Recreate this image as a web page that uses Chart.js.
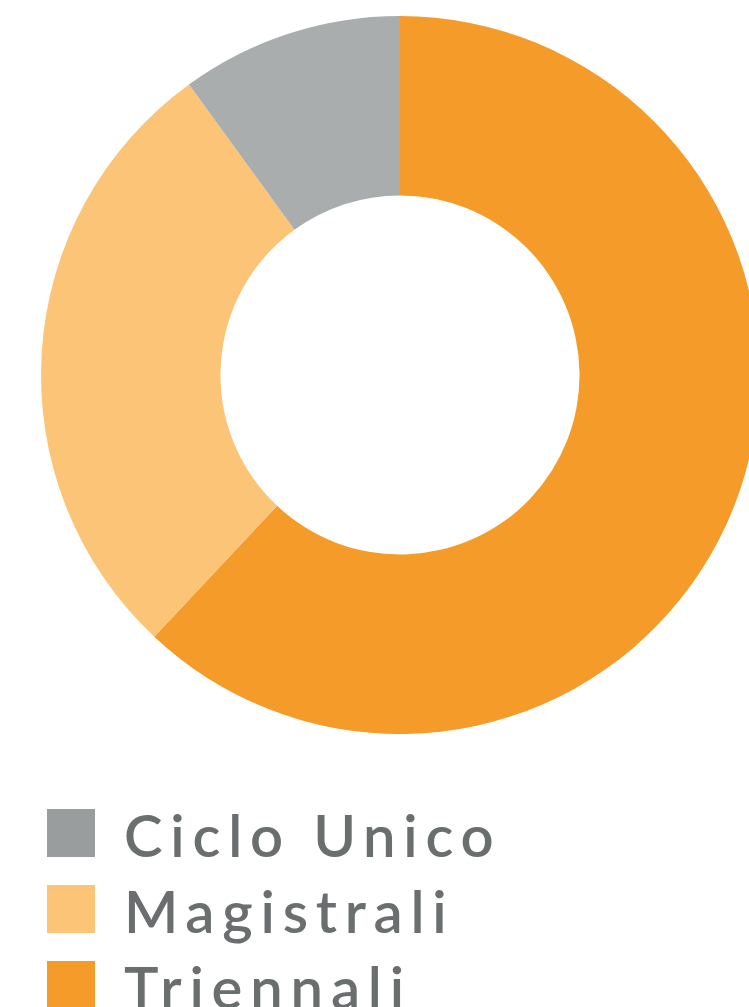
<!DOCTYPE html>
<html>
<head>
<meta charset="utf-8">
<script src="https://cdn.jsdelivr.net/npm/chart.js@4/dist/chart.umd.min.js"></script>
<style>
  html, body { margin: 0; padding: 0; background: #fff; width: 749px; height: 1007px; overflow: hidden; }
  #wrap { position: absolute; left: 0; top: 0; width: 800px; height: 750px; }
  #legend { position: absolute; left: 47px; top: 809px; font-family: Lato, sans-serif; }
  .item { display: flex; align-items: center; height: 48px; margin-bottom: 28px; }
  .box { width: 48px; height: 48px; flex: none; }
  .lbl { margin-left: 29px; font-size: 58px; font-weight: 600; letter-spacing: 7.8px; color: #6b6e6f; line-height: 48px; position: relative; top: 2px; }
</style>
</head>
<body>
<div id="wrap"><canvas id="chart"></canvas></div>
<div id="legend"></div>
<script>
// ordine di disegno (in senso orario dall'alto)
const labels = ['Triennali', 'Magistrali', 'Ciclo Unico'];
const values = [62, 28, 10];
const colors = ['#f59b29', '#fcc477', '#aaadad'];

// legenda: ordine inverso, quadratino grigio un po' più scuro
const legendColors = ['#f59b29', '#fcc477', '#9a9d9e'];

new Chart(document.getElementById('chart'), {
  type: 'doughnut',
  data: {
    labels,
    datasets: [{ data: values, backgroundColor: colors, borderWidth: 0 }],
  },
  options: {
    responsive: true,
    maintainAspectRatio: false,
    animation: false,
    cutout: '50%',
    layout: { padding: 16 },
    plugins: { legend: { display: false }, tooltip: { enabled: false } },
  },
});

const legend = document.getElementById('legend');
labels.map((l, i) => [l, legendColors[i]]).reverse().forEach(([l, c]) => {
  const row = document.createElement('div');
  row.className = 'item';
  row.innerHTML = `<span class="box" style="background:${c}"></span><span class="lbl">${l}</span>`;
  legend.appendChild(row);
});
</script>
</body>
</html>
